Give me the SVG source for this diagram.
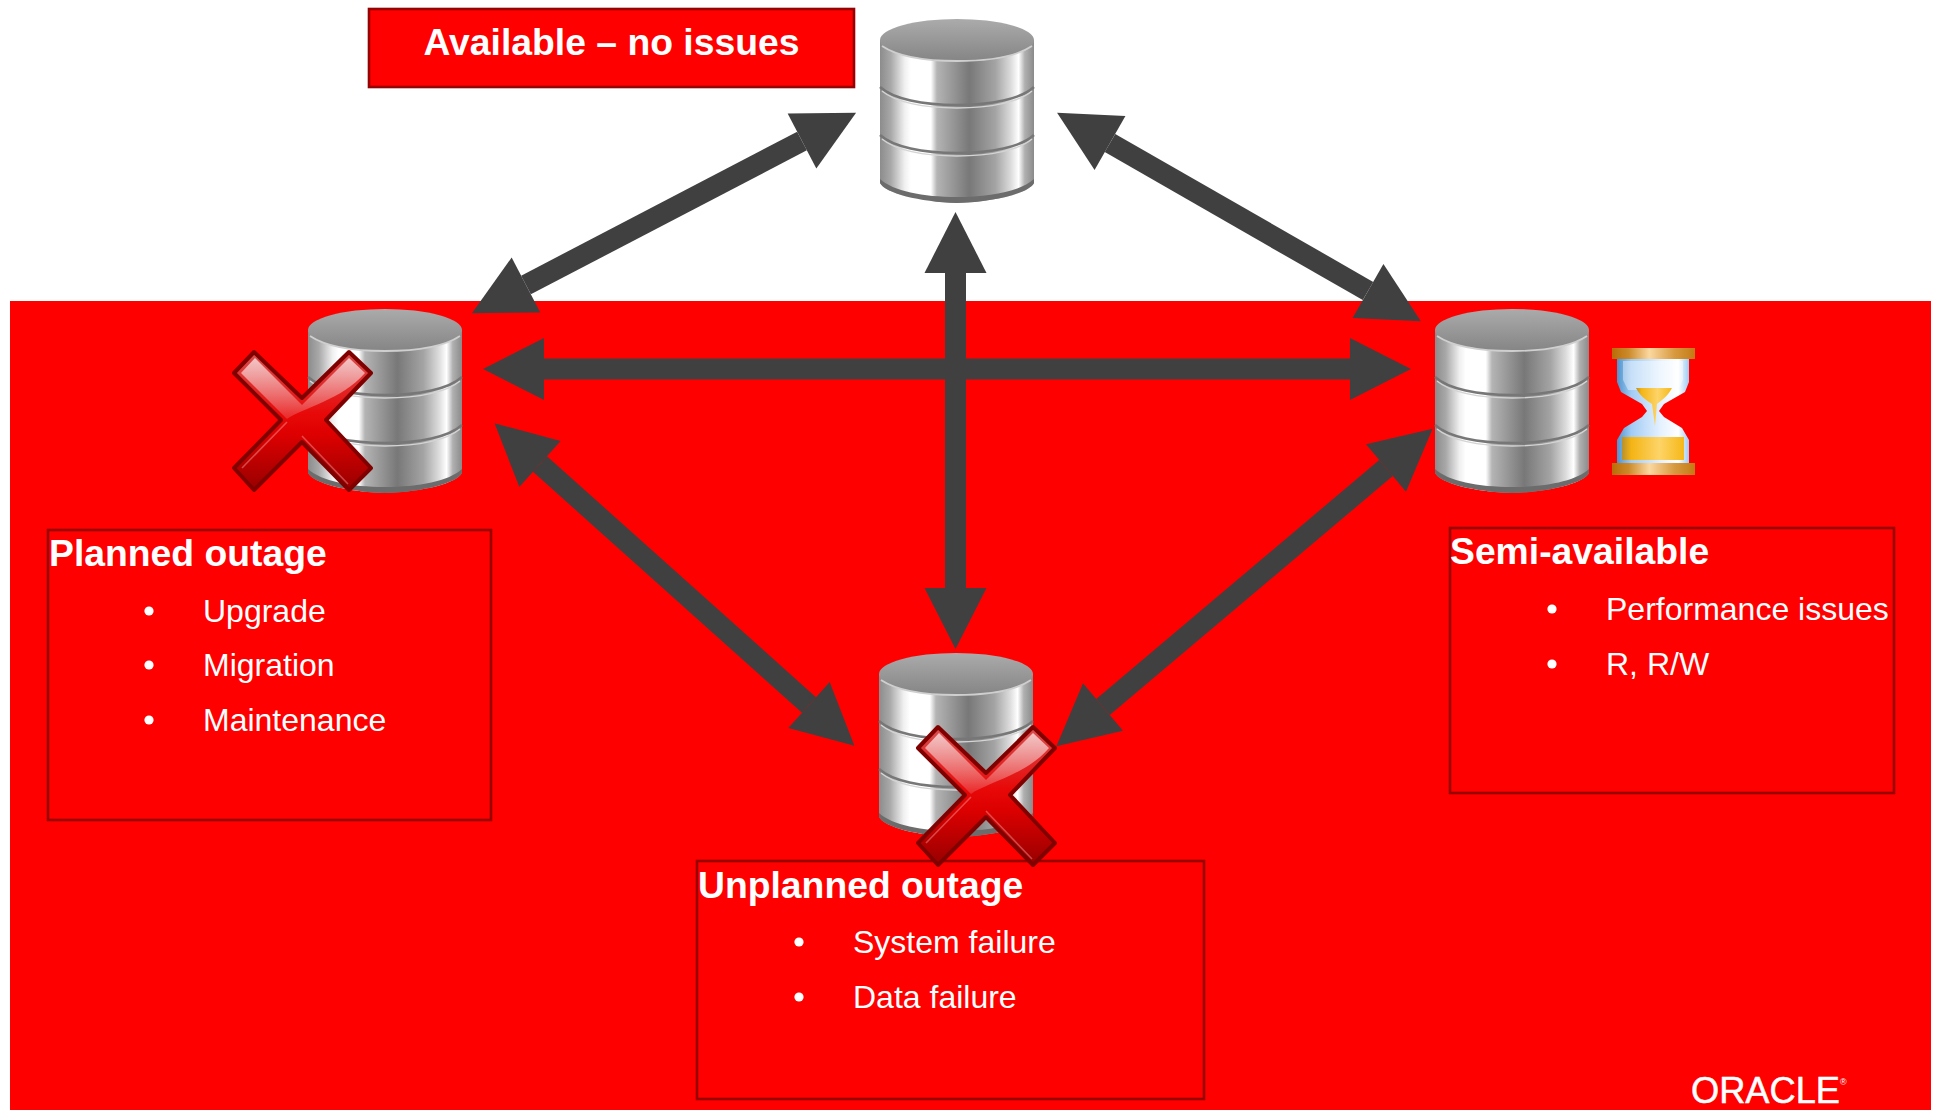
<svg xmlns="http://www.w3.org/2000/svg" xmlns:xlink="http://www.w3.org/1999/xlink" width="1934" height="1110" viewBox="0 0 1934 1110">
<style>
text{font-family:"Liberation Sans",Arial,sans-serif;fill:#fff}
.title{font-size:37.3px;font-weight:700}
.item{font-size:32px}
.box{fill:#f00;stroke:#960000;stroke-width:2.6}
.bullet{fill:#fff}
.conn{stroke:#404040;stroke-width:21;fill:none;marker-start:url(#head);marker-end:url(#head)}
</style>
<defs>
<marker id="head" markerUnits="userSpaceOnUse" markerWidth="62" markerHeight="64" refX="0" refY="32" orient="auto-start-reverse" overflow="visible"><polygon points="0,1 61,32 0,63" fill="#404040"/></marker>
<linearGradient id="bodyG" x1="0" x2="1" y1="0" y2="0">
<stop offset="0" stop-color="#8c8c8c"/><stop offset=".07" stop-color="#a8a8a8"/><stop offset=".16" stop-color="#f0f0f0"/><stop offset=".2" stop-color="#fff"/><stop offset=".33" stop-color="#fff"/><stop offset=".37" stop-color="#b4b4b4"/><stop offset=".58" stop-color="#787878"/><stop offset=".75" stop-color="#a4a4a4"/><stop offset=".85" stop-color="#dcdcdc"/><stop offset=".9" stop-color="#fff"/><stop offset=".94" stop-color="#b0b0b0"/><stop offset="1" stop-color="#8a8a8a"/>
</linearGradient>
<linearGradient id="topG" x1="0" x2="0" y1="0" y2="1"><stop offset="0" stop-color="#ababab"/><stop offset="1" stop-color="#858585"/></linearGradient>
<linearGradient id="xG" x1="0" x2="0" y1="0" y2="1"><stop offset="0" stop-color="#d85050"/><stop offset=".45" stop-color="#e80808"/><stop offset=".6" stop-color="#dd0000"/><stop offset="1" stop-color="#980000"/></linearGradient>
<linearGradient id="xH" x1="0" x2="0" y1="0" y2="1"><stop offset="0" stop-color="#fff" stop-opacity=".68"/><stop offset="1" stop-color="#fff" stop-opacity=".14"/></linearGradient>
<linearGradient id="capG" x1="0" x2="1" y1="0" y2="0"><stop offset="0" stop-color="#b96c08"/><stop offset=".2" stop-color="#cc8a2a"/><stop offset=".45" stop-color="#fbd8a0"/><stop offset=".75" stop-color="#d89a40"/><stop offset="1" stop-color="#c47a14"/></linearGradient>
<linearGradient id="glassG" x1="0" x2="1" y1="0" y2="0"><stop offset="0" stop-color="#4f92cc"/><stop offset=".2" stop-color="#a2ccf4"/><stop offset=".6" stop-color="#e4f1ff"/><stop offset=".85" stop-color="#fff"/><stop offset="1" stop-color="#9ccbf4"/></linearGradient>
<linearGradient id="sandG" x1="0" x2="1" y1="0" y2="0"><stop offset="0" stop-color="#b8902c"/><stop offset=".15" stop-color="#f4b414"/><stop offset=".6" stop-color="#fdd468"/><stop offset="1" stop-color="#f6b818"/></linearGradient>
<symbol id="db" width="156" height="186" viewBox="0 0 156 186" overflow="visible">
<path d="M1,21V164C6,174 40,183 78,184C116,183 150,174 155,164V21Z" fill="url(#bodyG)"/>
<path d="M1,160C14,172 44,178 78,178C112,178 142,172 155,160V164C150,174 116,183 78,184C40,183 6,174 1,164Z" fill="#6c6c6c"/>
<path d="M1,68C14,80 44,86 78,86C112,86 142,80 155,68" fill="none" stroke="#777" stroke-width="2.4"/>
<path d="M3,72C16,83 44,89 78,89C112,89 140,83 153,72" fill="none" stroke="#d4d4d4" stroke-width="1.4"/>
<path d="M1,116C14,128 44,134 78,134C112,134 142,128 155,116" fill="none" stroke="#777" stroke-width="2.4"/>
<path d="M3,120C16,131 44,137 78,137C112,137 140,131 153,120" fill="none" stroke="#d4d4d4" stroke-width="1.4"/>
<ellipse cx="78" cy="21" rx="77" ry="21" fill="url(#topG)"/>
<path d="M3,27C18,37 46,42 78,42C110,42 138,37 153,27" fill="none" stroke="#cfcfcf" stroke-width="1.8"/>
</symbol>
<symbol id="cross" width="141" height="142" viewBox="0 0 141 142" overflow="visible">
<polygon points="22,2 2,23 49,70 2,118 22,140 70,92 117,140 139,118 94,70 139,23 117,2 70,48" fill="url(#xG)" stroke="#800000" stroke-width="4" stroke-linejoin="round"/>
<path d="M23,8L9,23L55,69C70,58 110,50 133,23L117,8L70,55Z" fill="url(#xH)"/>
<path d="M55,72L10,118M70,86L116,134" fill="none" stroke="#f6a0a0" stroke-opacity=".45" stroke-width="1.6"/>
</symbol>
</defs>
<rect id="background" x="10" y="301" width="1921" height="809" fill="#f00"/>
<g id="node-available-label"><rect class="box" x="369" y="9" width="485" height="78"/><text class="title" x="611.5" y="55" text-anchor="middle">Available – no issues</text></g>
<g id="node-planned-label"><rect class="box" x="48" y="530" width="443" height="290"/><text class="title" x="49" y="566">Planned outage</text>
<circle class="bullet" cx="149" cy="611" r="4.6"/><text class="item" x="203" y="622">Upgrade</text>
<circle class="bullet" cx="149" cy="665" r="4.6"/><text class="item" x="203" y="676">Migration</text>
<circle class="bullet" cx="149" cy="720" r="4.6"/><text class="item" x="203" y="731">Maintenance</text></g>
<g id="node-semi-label"><rect class="box" x="1450" y="528" width="444" height="265"/><text class="title" x="1450" y="564">Semi-available</text>
<circle class="bullet" cx="1552" cy="609" r="4.6"/><text class="item" x="1606" y="620">Performance issues</text>
<circle class="bullet" cx="1552" cy="664" r="4.6"/><text class="item" x="1606" y="675">R, R/W</text></g>
<g id="node-unplanned-label"><rect class="box" x="697" y="861" width="507" height="238"/><text class="title" x="698" y="898">Unplanned outage</text>
<circle class="bullet" cx="799" cy="942" r="4.6"/><text class="item" x="853" y="953">System failure</text>
<circle class="bullet" cx="799" cy="997" r="4.6"/><text class="item" x="853" y="1008">Data failure</text></g>
<g id="connectors">
<line class="conn" x1="526" y1="285" x2="802" y2="141"/>
<line class="conn" x1="1110" y1="143" x2="1368" y2="291"/>
<line class="conn" x1="955.5" y1="273" x2="955.5" y2="588"/>
<line class="conn" x1="544" y1="369" x2="1350" y2="369"/>
<line class="conn" x1="540" y1="464" x2="809" y2="705"/>
<line class="conn" x1="1386" y1="468" x2="1103" y2="707"/>
</g>
<g id="node-db-top"><use xlink:href="#db" href="#db" x="879" y="19"/></g>
<g id="node-db-left"><use xlink:href="#db" href="#db" x="307" y="309"/><use xlink:href="#cross" href="#cross" x="232" y="350"/></g>
<g id="node-db-right"><use xlink:href="#db" href="#db" x="1434" y="309"/>
<g id="hourglass" transform="translate(1612 348)">
<path d="M5,11H77V34L73,44L52,56L47,63L52,69L70,80L77,92V115H5V92L12,80L30,69L35,63L30,56L9,44L5,34Z" fill="url(#glassG)"/>
<path d="M11,13H71V32L66,42H16L11,32Z" fill="#fff" fill-opacity=".4"/>
<path d="M24,40H60C56,48 50,52 45,56L43,78L40,56C34,52 28,48 24,40Z" fill="url(#sandG)"/>
<rect x="10" y="89" width="62" height="23" fill="url(#sandG)"/>
<rect x="0" y="0" width="83" height="11" fill="url(#capG)"/>
<rect x="0" y="115" width="83" height="12" fill="url(#capG)"/>
</g></g>
<g id="node-db-bottom"><use xlink:href="#db" href="#db" x="878" y="653"/><use xlink:href="#cross" href="#cross" x="916" y="725"/></g>
<g id="logo"><text x="1691" y="1103" font-size="36" textLength="149" lengthAdjust="spacingAndGlyphs" stroke="#fff" stroke-width=".5">ORACLE</text><text x="1840" y="1085" font-size="9">®</text></g>
</svg>
